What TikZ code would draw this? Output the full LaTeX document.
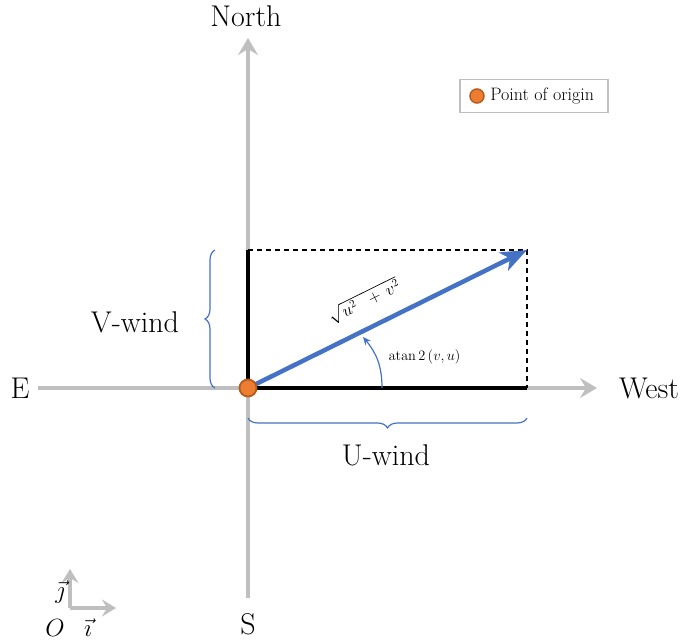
\documentclass[tikz,border=0pt]{standalone}
\usepackage{amsmath}
\usetikzlibrary{arrows.meta,positioning,decorations.pathreplacing}
\definecolor{axisgray}{HTML}{BFBFBF}
\definecolor{windblue}{HTML}{4472C4}
\definecolor{dotorange}{HTML}{ED7D31}
\definecolor{dotedge}{HTML}{B35C1E}
\tikzset{
  axis/.style={draw=axisgray,line width=4.5pt,-{Stealth[length=17pt,width=20pt,inset=6pt]}},
  unitvec/.style={draw=axisgray,line width=4pt,-{Stealth[length=14pt,width=17pt,inset=5pt]}},
  comp/.style={draw=black,line width=4pt},
  box/.style={draw=black,dashed,line width=1.2pt,dash pattern=on 5pt off 4pt},
  wind/.style={draw=windblue,line width=4.5pt,-{Stealth[length=26pt,width=20pt,inset=7pt]}},
  brace/.style={draw=windblue,line width=1.2pt,decorate,decoration={brace,amplitude=10pt}},
  origin/.style={circle,fill=dotorange,draw=dotedge,line width=1.8pt,minimum size=17pt,inner sep=0pt},
  lbl/.style={font=\fontsize{30}{34}\selectfont},
  small/.style={font=\fontsize{14.5}{17}\selectfont},
  legend/.style={draw=axisgray,line width=1.5pt,minimum width=148pt,minimum height=33pt}
}

\begin{document}
\begin{tikzpicture}[x=1pt,y=1pt]
\useasboundingbox (-248,-253) rectangle (437,388);

\coordinate (o) at (0,0);
\coordinate (north) at (0,350);
\coordinate (south) at (0,-210);
\coordinate (east) at (-210,0);
\coordinate (west) at (349,0);
\coordinate (vtop) at (0,138);
\coordinate (utip) at (279,0);
\coordinate (corner) at (279,138);

\draw[axis] (south) -- (north);
\draw[axis] (east) -- (west);

\node[lbl] (nlabel) at (-2,372) {North};
\node[lbl] (slabel) at (0,-236) {S};
\node[lbl] (elabel) at (-228,0) {E};
\node[lbl] (wlabel) at (401,0) {West};

\draw[box] (vtop) -- (corner) -- (utip);
\draw[comp] (vtop) -- (o) -- (utip);

\draw[brace] (-33,0) -- (-33,138);
\draw[brace] (279,-30) -- (0,-30);
\node[lbl] (vwind) at (-113,66) {V-wind};
\node[lbl] (uwind) at (138,-67) {U-wind};

\draw[wind] (o) -- (corner);
\node[font=\fontsize{16}{19}\selectfont,rotate=26.3] (norm) at (116,87) {$\sqrt{u^2\;\;+\,v^2}$};

\coordinate (arcstart) at (134,0);
\coordinate (arcend) at (115,51);
\draw[draw=windblue,line width=1.2pt,-{Stealth[length=8pt,width=7pt]}] (arcstart) to[out=90,in=-50] (arcend);
\node[small,anchor=west] (angle) at (137,31) {$\mathrm{atan}\,2\,(v,u)$};

\node[origin] (dot) at (o) {};

\node[legend] (key) at (286,292) {};
\node[origin,minimum size=14pt,line width=1.5pt] (keydot) at (229,292) {};
\node[font=\fontsize{18}{21}\selectfont,right=2pt of keydot] (keytext) {Point of origin};

\coordinate (ibase) at (-178,-220);
\draw[unitvec] (ibase) -- ++(0,39);
\draw[unitvec] (ibase) -- ++(46,0);
\node[lbl] (jvec) at (-188,-204) {$\vec{\jmath}$};
\node[lbl] (ovec) at (-193,-240) {$O$};
\node[lbl] (ivec) at (-160,-240) {$\vec{\imath}$};

\end{tikzpicture}
\end{document}
